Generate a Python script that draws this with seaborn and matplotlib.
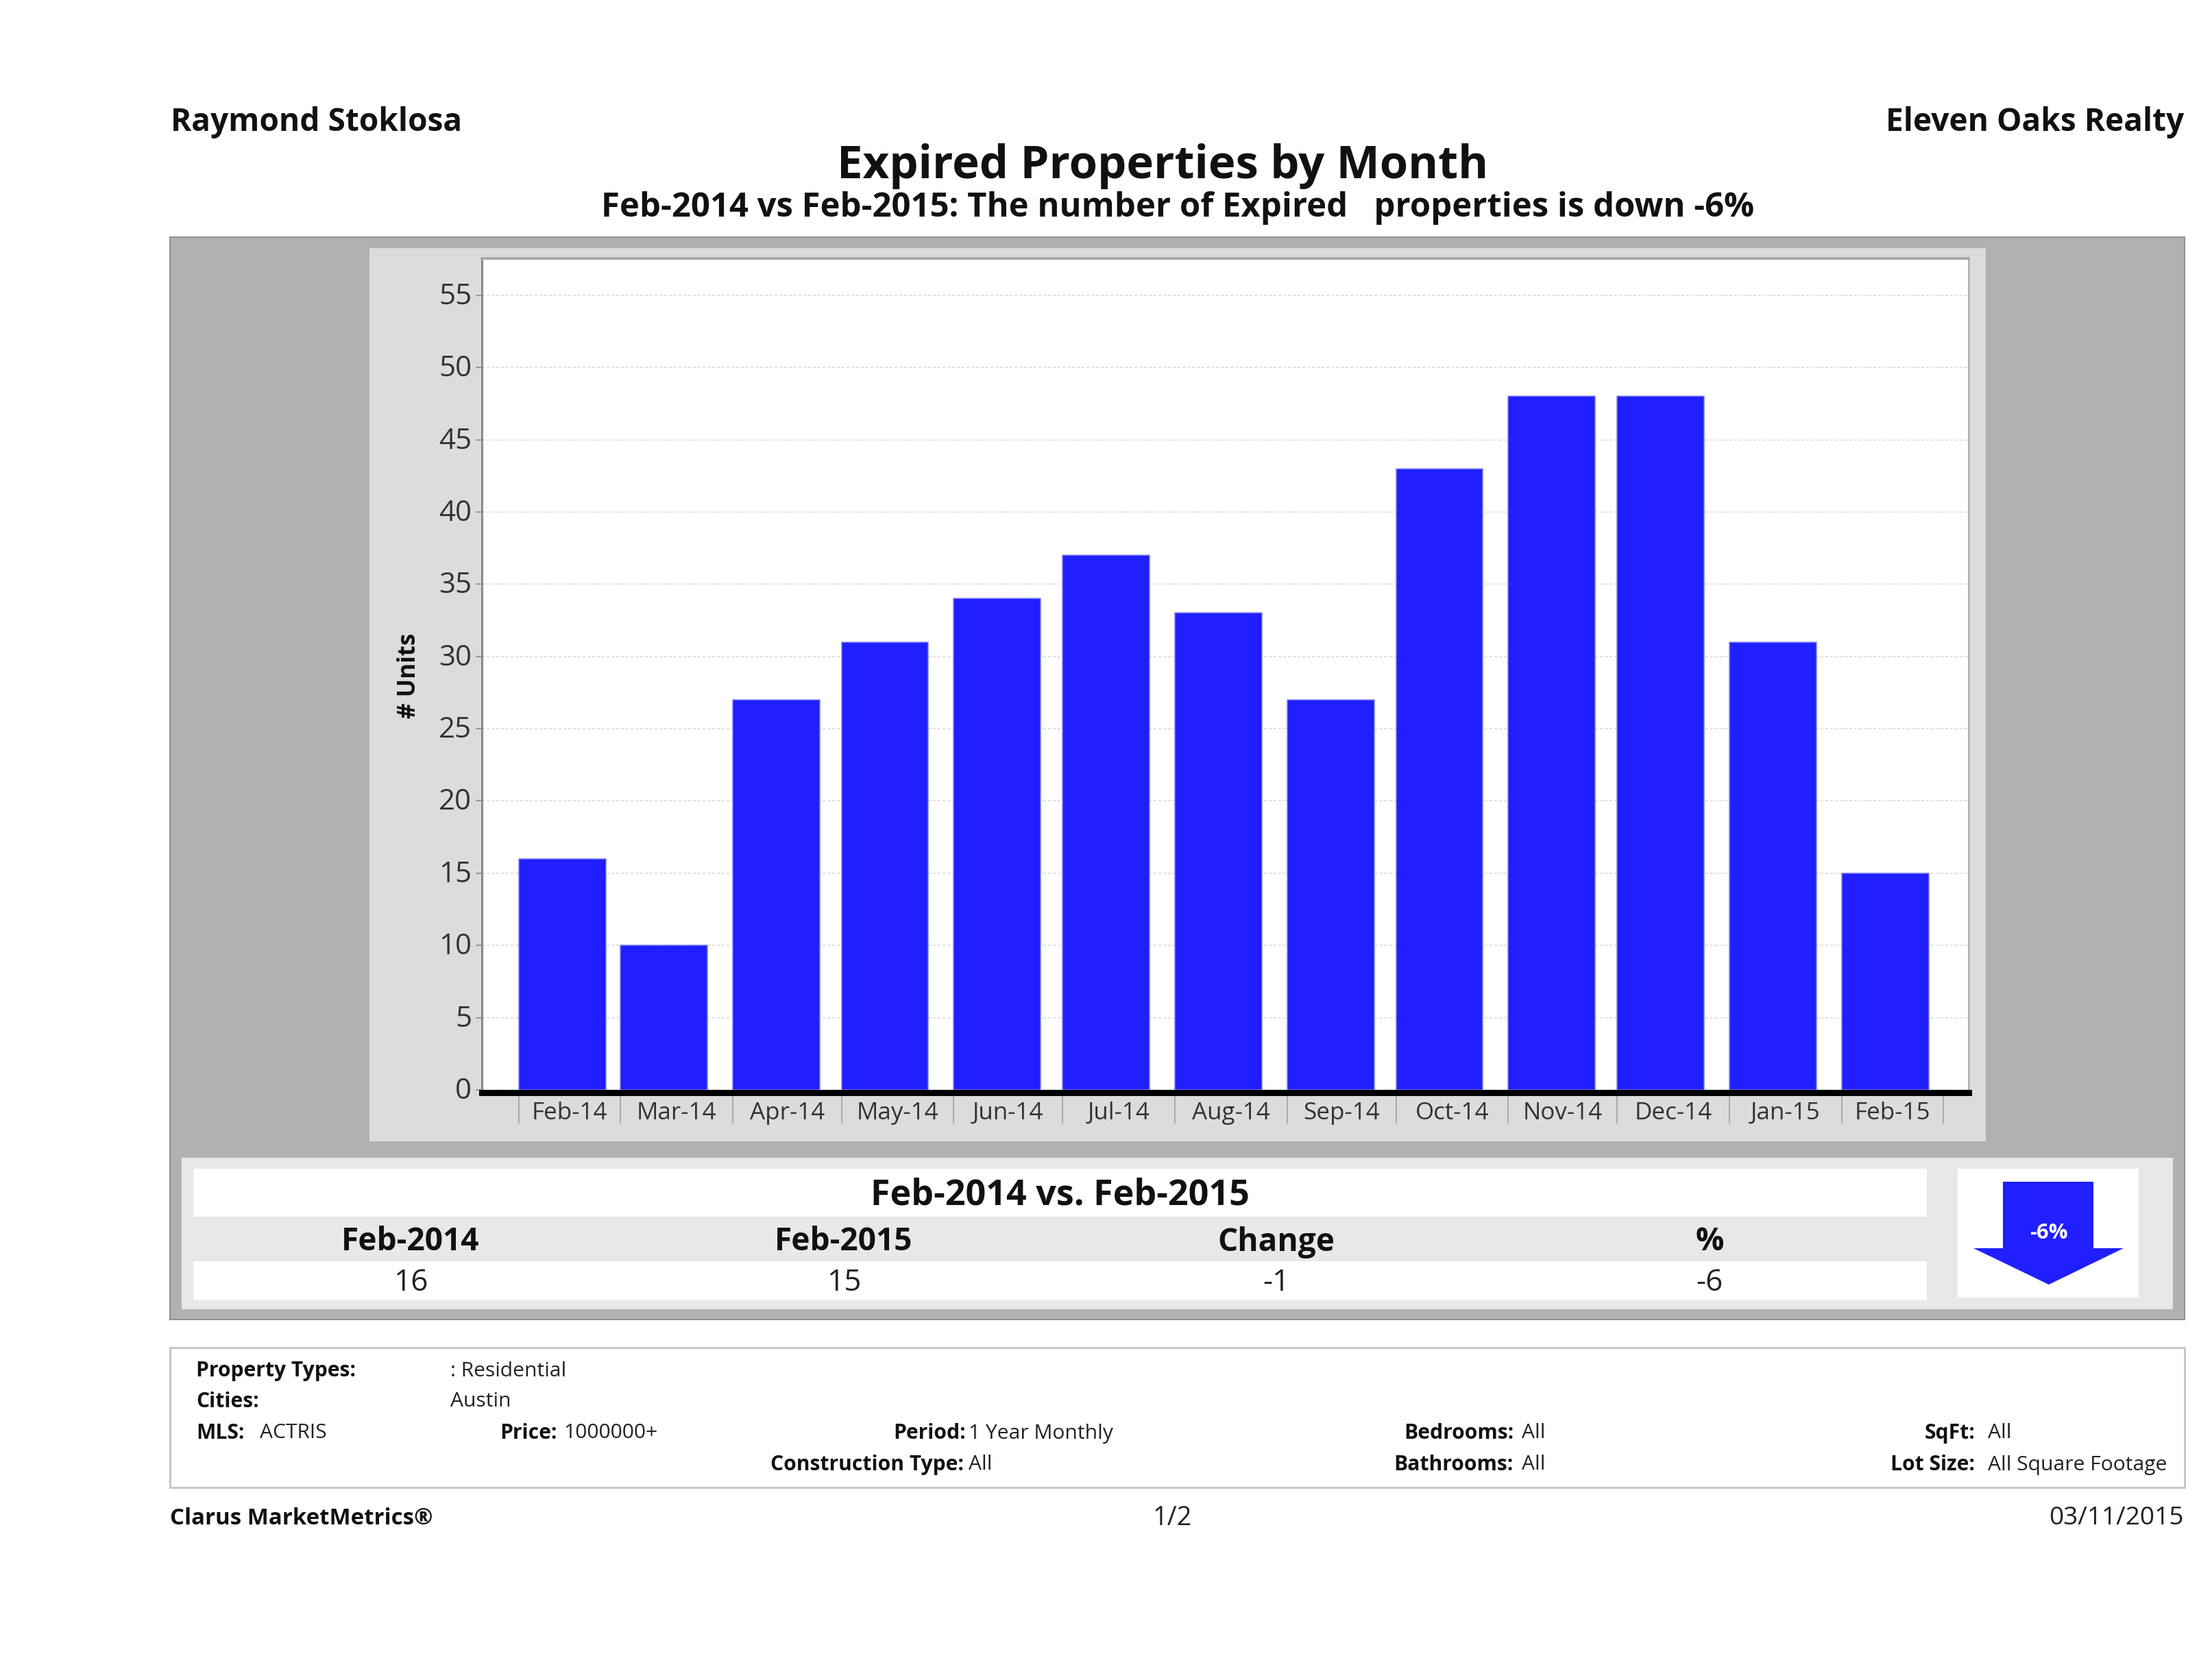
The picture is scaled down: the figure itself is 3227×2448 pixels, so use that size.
import matplotlib
matplotlib.use("Agg")
import matplotlib.pyplot as plt
from matplotlib.patches import Polygon, Rectangle
from matplotlib.transforms import ScaledTranslation
import pandas as pd
import seaborn as sns

W, H = 3227, 2448

months = ["Feb-14", "Mar-14", "Apr-14", "May-14", "Jun-14", "Jul-14", "Aug-14",
          "Sep-14", "Oct-14", "Nov-14", "Dec-14", "Jan-15", "Feb-15"]
units = [16, 10, 27, 31, 34, 37, 33, 27, 43, 48, 48, 31, 15]
y_ticks = [0, 5, 10, 15, 20, 25, 30, 35, 40, 45, 50, 55]

table_heads = ["Feb-2014", "Feb-2015", "Change", "%"]
table_vals = ["16", "15", "-1", "-6"]

BLUE = "#1f1fff"

sns.set_theme(style="white")
plt.rcParams["font.family"] = ["Open Sans", "DejaVu Sans"]


def px(n):
    # pixel sizes to points at dpi 100
    return n * 0.72


def box(ax, x0, y0, x1, y1, color, **kw):
    ax.add_patch(Rectangle((x0, y0), x1 - x0, y1 - y0, facecolor=color, **kw))


fig = plt.figure(figsize=(W / 100, H / 100), dpi=100, facecolor="white")

# page layer, drawn in image pixels
bg = fig.add_axes([0, 0, 1, 1])
bg.set_xlim(0, W)
bg.set_ylim(H, 0)
bg.axis("off")

box(bg, 248, 346, 3187, 1925, "#b1b1b1", edgecolor="#8f8f8f", linewidth=px(2))
box(bg, 539, 362, 2897, 1665, "#dcdcdc", edgecolor="none")
box(bg, 265, 1689, 3170, 1910, "#e8e8e8", edgecolor="none")
box(bg, 282, 1705, 2811, 1775, "white", edgecolor="none")
box(bg, 282, 1840, 2811, 1897, "white", edgecolor="none")
box(bg, 2856, 1705, 3120, 1893, "white", edgecolor="none")
box(bg, 248, 1966, 3187, 2170, "white", edgecolor="#c8c8c8", linewidth=px(3))
bg.add_patch(Polygon([(2922, 1724), (3054, 1724), (3054, 1821), (3098, 1821),
                      (2989, 1874), (2879, 1821), (2922, 1821)],
                     closed=True, facecolor=BLUE, edgecolor="none"))
bg.text(2989, 1799, "-6%", color="white", fontsize=px(31), fontweight="bold",
        ha="center", va="center")

bold = dict(fontweight="bold", color="#111111")
bg.text(249, 178, "Raymond Stoklosa", fontsize=px(46), ha="left", va="center", **bold)
bg.text(3186, 178, "Eleven Oaks Realty", fontsize=px(46), ha="right", va="center", **bold)
bg.text(1696, 243, "Expired Properties by Month", fontsize=px(67), ha="center", va="center", **bold)
bg.text(1718, 303, "Feb-2014 vs Feb-2015: The number of Expired   properties is down -6%",
        fontsize=px(49), ha="center", va="center", **bold)

bg.text(1546, 1744, "Feb-2014 vs. Feb-2015", fontsize=px(52), ha="center", va="center", **bold)
for cx, head, val in zip([599, 1231, 1862, 2494], table_heads, table_vals):
    bg.text(cx, 1812, head, fontsize=px(46), ha="center", va="center", **bold)
    bg.text(cx, 1872, val, fontsize=px(44), ha="center", va="center", color="#222222")

small = px(30)
for x, y, label in [(286, 2000, "Property Types:"), (286, 2045, "Cities:"), (286, 2091, "MLS:"),
                    (729, 2091, "Price:"), (1303, 2091, "Period:"), (1124, 2137, "Construction Type:")]:
    bg.text(x, y, label, fontsize=small, ha="left", va="center", **bold)
for x, y, val in [(657, 2000, ": Residential"), (657, 2045, "Austin"), (379, 2091, "ACTRIS"),
                  (822, 2091, "1000000+"), (1413, 2091, "1 Year Monthly"), (1413, 2137, "All"),
                  (2220, 2091, "All"), (2220, 2137, "All"),
                  (2900, 2091, "All"), (2900, 2137, "All Square Footage")]:
    bg.text(x, y, val, fontsize=small, ha="left", va="center", color="#222222")
for x, y, label in [(2208, 2091, "Bedrooms:"), (2208, 2137, "Bathrooms:"),
                    (2881, 2091, "SqFt:"), (2881, 2137, "Lot Size:")]:
    bg.text(x, y, label, fontsize=small, ha="right", va="center", **bold)

bg.text(248, 2215, "Clarus MarketMetrics®", fontsize=px(33), ha="left", va="center", **bold)
bg.text(1710, 2215, "1/2", fontsize=px(38), ha="center", va="center", color="#222222")
bg.text(3186, 2215, "03/11/2015", fontsize=px(37), ha="right", va="center", color="#222222")

# chart: a date axis, each bar starts at its month and spans 24 days
starts = pd.to_datetime(months, format="%b-%y")
days = (starts - starts[0]).days
df = pd.DataFrame({"day": days + 12, "units": units})

left, right, top, bottom = 703, 2872, 377, 1590
ax = fig.add_axes([left / W, 1 - bottom / H, (right - left) / W, (bottom - top) / H])
ax.set_facecolor("white")
sns.barplot(data=df, x="day", y="units", native_scale=True, width=24 / 28,
            color=BLUE, saturation=1, edgecolor="#8080ee", linewidth=px(1.5), ax=ax)
ax.set_xlim(-10.2, 400)
ax.set_ylim(0, 57.55)
ax.set_axisbelow(True)

ax.set_yticks(y_ticks)
ax.tick_params(axis="y", labelsize=px(42), length=px(9), width=px(2), color="#999999",
               labelcolor="#333333", pad=px(6), left=True)
ax.grid(axis="y", color="#e0e0e0", linestyle=(0, (2, 1.5)), linewidth=px(2))
ax.grid(axis="x", visible=False)

# y labels sit a touch above their ticks in the reference
nudge = ScaledTranslation(0, px(3) / 72, fig.dpi_scale_trans)
for label in ax.get_yticklabels():
    label.set_transform(label.get_transform() + nudge)

# tick marks at month starts, labels centred between them
edges = list(days) + [days[-1] + 28]
ax.set_xticks(edges)
ax.set_xticklabels([])
ax.set_xticks([(a + b) / 2 for a, b in zip(edges[:-1], edges[1:])], labels=months, minor=True)
ax.tick_params(axis="x", which="major", length=px(45), width=px(2), color="#aaaaaa", bottom=True)
ax.tick_params(axis="x", which="minor", length=0, labelsize=px(35), labelcolor="#333333", pad=px(13))

ax.set_xlabel("")
ax.set_ylabel("# Units", fontsize=px(35), fontweight="bold", color="#111111")
ax.yaxis.set_label_coords((615 - left) / (right - left), (1590 - 986) / (bottom - top))

ax.spines["left"].set_color("#888888")
ax.spines["left"].set_linewidth(px(3))
ax.spines["top"].set_color("#a8a8a8")
ax.spines["top"].set_linewidth(px(4))
ax.spines["right"].set_color("#b4b4b4")
ax.spines["right"].set_linewidth(px(3))
ax.spines["bottom"].set_color("black")
ax.spines["bottom"].set_linewidth(px(9))
ax.spines["bottom"].set_position(("outward", px(4)))

fig.savefig("out.png", dpi=100)
plt.close(fig)
